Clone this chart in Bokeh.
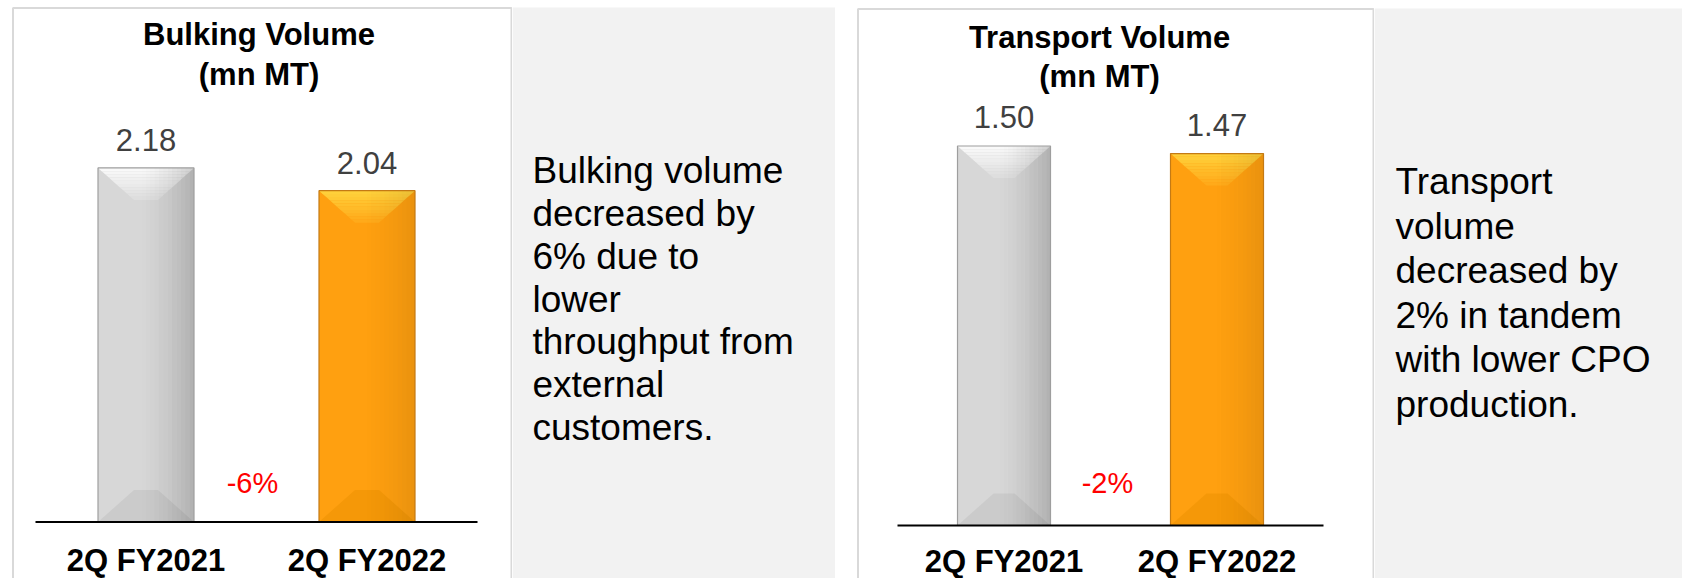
from bokeh.plotting import figure
from bokeh.layouts import row
from bokeh.models import Range1d
from bokeh.core.properties import value
from bokeh.embed import file_html
from bokeh.resources import INLINE

# ---------------- data ----------------
categories = ["2Q FY2021", "2Q FY2022"]
bulking_values = [2.18, 2.04]
transport_values = [1.50, 1.47]
bulking_change = "-6%"
transport_change = "-2%"
bulking_title = ["Bulking Volume", "(mn MT)"]
transport_title = ["Transport Volume", "(mn MT)"]
bulking_note = ["Bulking volume", "decreased by", "6% due to", "lower",
                "throughput from", "external", "customers."]
transport_note = ["Transport", "volume", "decreased by", "2% in tandem",
                  "with lower CPO", "production."]

# ---------------- style ----------------
FONT = "Liberation Sans"
H = 578
BAR_STYLE = [
    dict(main="#D7D7D7", top=("#FAFAFA", "#DDDDDD"), bottom="#CBCBCB",
         edge="#9E9E9E", shade=0.17),
    dict(main="#FFA010", top=("#FFD23C", "#FFA818"), bottom="#F59808",
         edge="#C47A14", shade=0.08),
]


def mix(c1, c2, t):
    a = [int(c1[i:i + 2], 16) for i in (1, 3, 5)]
    b = [int(c2[i:i + 2], 16) for i in (1, 3, 5)]
    return "#%02x%02x%02x" % tuple(round(a[k] + (b[k] - a[k]) * t) for k in range(3))


def chart(width, values, title_lines, change, base_px, ppu, cat0_px, step,
          bar_px, panel_left, panel_top, title_cx, title_ys, label_gap, cat_gap,
          change_dx, change_up):
    xr = Range1d(-cat0_px / step, (width - cat0_px) / step)
    yr = Range1d(-(H - base_px) / ppu, base_px / ppu)
    p = figure(width=width, height=H, x_range=xr, y_range=yr, title=None,
               output_backend="svg", toolbar_location=None, min_border=0,
               x_axis_location=None, y_axis_location=None,
               outline_line_color=None, background_fill_color="white",
               border_fill_color="white")
    p.grid.visible = False
    p.extra_x_ranges = {"px": Range1d(0, width)}
    p.extra_y_ranges = {"px": Range1d(0, H)}

    # panel border
    top = H - panel_top
    p.line(x=[panel_left, panel_left, width - 1, width - 1], y=[0, top, top, 0],
           x_range_name="px", y_range_name="px", line_color="#D9D9D9", line_width=2)

    xs = list(range(len(categories)))
    hw = bar_px / step / 2
    d = 32 / ppu           # bevel depth (data units)
    e = 36 / step          # bevel horizontal inset

    for x, v, st in zip(xs, values, BAR_STYLE):
        p.quad(left=[x - hw], right=[x + hw], bottom=[0], top=[v],
               fill_color=st["main"], line_color=None)
        # top bevel gradient
        n = 10
        for j in range(n):
            f0, f1 = j / n, (j + 1) / n
            p.patch(x=[x - hw + e * f0, x + hw - e * f0, x + hw - e * f1, x - hw + e * f1],
                    y=[v - d * f0, v - d * f0, v - d * f1, v - d * f1],
                    fill_color=mix(st["top"][0], st["top"][1], (j + 0.5) / n),
                    line_color=None)
        # bottom bevel
        p.patch(x=[x - hw, x + hw, x + hw - e, x - hw + e], y=[0, 0, d, d],
                fill_color=st["bottom"], line_color=None)
        # right-side shading
        m = 12
        s0 = x - hw + 0.45 * 2 * hw
        sw = (x + hw - s0) / m
        for k in range(m):
            p.quad(left=[s0 + k * sw], right=[s0 + (k + 1) * sw], bottom=[0], top=[v],
                   fill_color="black", fill_alpha=st["shade"] * ((k + 1) / m) ** 1.5,
                   line_color=None)
        # outline
        p.quad(left=[x - hw], right=[x + hw], bottom=[0], top=[v],
               fill_color=None, line_color=st["edge"], line_width=1.2)

    # axis line
    p.line(x=[xs[0] - 0.5, xs[-1] + 0.5], y=[0, 0], line_color="black", line_width=2)

    # value labels
    p.text(x=xs, y=[v + label_gap / ppu for v in values],
           text=["%.2f" % v for v in values], text_align="center",
           text_baseline="middle", text_font=value(FONT), text_font_size="31px",
           text_color="#404040")

    # category labels
    p.text(x=xs, y=[-cat_gap / ppu] * len(xs), text=categories, text_align="center",
           text_baseline="middle", text_font=value(FONT), text_font_size="31px",
           text_font_style="bold", text_color="black")

    # change label
    p.text(x=[(xs[0] + xs[-1]) / 2 + change_dx / step], y=[change_up / ppu],
           text=[change], text_align="center", text_baseline="middle",
           text_font=value(FONT), text_font_size="29px", text_color="#FF0000")

    # title
    p.text(x=[title_cx] * len(title_lines), y=[H - ty for ty in title_ys],
           text=title_lines, text_align="center", text_baseline="middle",
           text_font=value(FONT), text_font_size="31px", text_font_style="bold",
           text_color="black", x_range_name="px", y_range_name="px")
    return p


def note(width, lines, left_px, top_px, center_page_y, lh, size):
    p = figure(width=width, height=H, x_range=Range1d(0, width), y_range=Range1d(0, H),
               title=None, output_backend="svg", toolbar_location=None, min_border=0,
               x_axis_location=None, y_axis_location=None, outline_line_color=None,
               background_fill_color="white", border_fill_color="white")
    p.grid.visible = False
    p.quad(left=[0], right=[width], bottom=[0], top=[H - top_px],
           fill_color="#F2F2F2", line_color=None)
    n = len(lines)
    cy = H - center_page_y
    ys = [cy + ((n - 1) / 2 - i) * lh for i in range(n)]
    p.text(x=[left_px] * n, y=ys, text=lines, text_align="left",
           text_baseline="middle", text_font=value(FONT),
           text_font_size=size, text_color="black")
    return p


pA = chart(512, bulking_values, bulking_title, bulking_change,
           base_px=521.5, ppu=162.4, cat0_px=145.5, step=221, bar_px=96,
           panel_left=12.5, panel_top=7.5, title_cx=258.5, title_ys=[34, 74],
           label_gap=28, cat_gap=38.5, change_dx=-4, change_up=39.5)
pB = note(323, bulking_note, 20, 7, 298.5, 42.7, "37px")
pC = chart(539, transport_values, transport_title, transport_change,
           base_px=525, ppu=253, cat0_px=168.5, step=213, bar_px=93,
           panel_left=22.5, panel_top=8.5, title_cx=264, title_ys=[37, 76],
           label_gap=29, cat_gap=36, change_dx=-3, change_up=43)
pD = note(308, transport_note, 21, 8, 292.5, 44.6, "37px")

layout = row(pA, pB, pC, pD, spacing=0)

with open("out.html", "w") as f:
    f.write(file_html(layout, INLINE))
